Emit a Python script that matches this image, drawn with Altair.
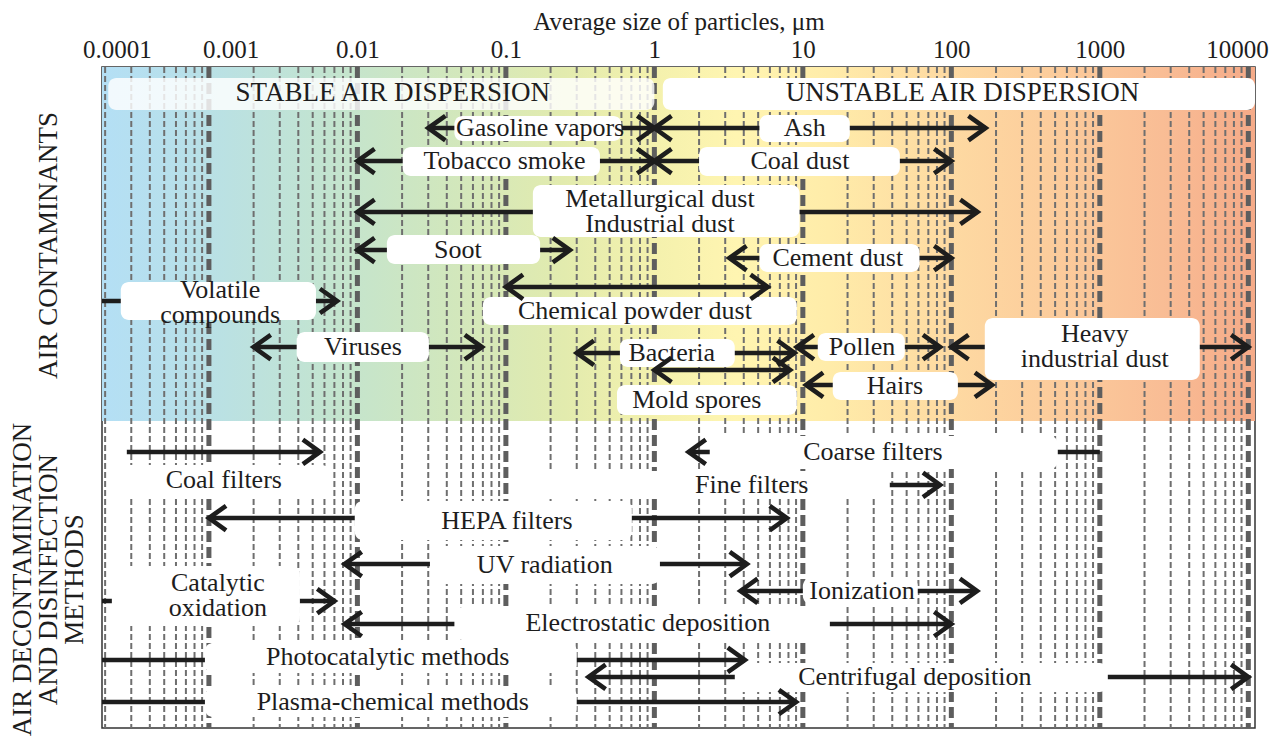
import json
import altair as alt
import pandas as pd

# ---------------- scale extents (log axis, micrometres) ----------------
X_MIN = 10 ** -3.72
X_MAX = 10 ** 4.045
Y_MAX = 30.0          # lanes, 0 = top of the plot
SPLIT = 16.07         # boundary between the two sections

# ---------------- axis texts (placed where the reference prints them) ----------------
TICK_AT = [0.00024, 0.0014, 0.01, 0.1, 1, 10, 100, 1000, 8400]
TICK_TEXT = ["0.0001", "0.001", "0.01", "0.1", "1", "10", "100", "1000", "10000"]
X_TITLE = "Average size of particles, μm"

SECTION_AT = [8.08, 23.24]
SECTION_TEXT = [["", "AIR CONTAMINANTS"],
                ["AIR DECONTAMINATION", "AND DISINFECTION", "METHODS"]]

# ---------------- header bands ----------------
HEADER_TEXT = ["STABLE AIR DISPERSION", "UNSTABLE AIR DISPERSION"]
HEADER_X = [0.0173, 119]
HEADER_ROW = [1.18, 1.18]
HEADER_LO = [0.00021, 1.14]
HEADER_HI = [1.0, X_MAX]
HEADER_TOP = [0.5, 0.5]
HEADER_BOT = [1.95, 1.95]

# ---------------- items ----------------
ITEM_TEXT = [
    "Gasoline vapors", "Ash", "Tobacco smoke", "Coal dust",
    "Metallurgical dust\nIndustrial dust", "Soot", "Cement dust",
    "Chemical powder dust", "Volatile\ncompounds", "Viruses", "Bacteria",
    "Pollen", "Heavy\nindustrial dust", "Mold spores", "Hairs",
    "Coal filters", "Coarse filters", "Fine filters", "HEPA filters",
    "UV radiation", "Catalytic\noxidation", "Ionization",
    "Electrostatic deposition", "Photocatalytic methods",
    "Centrifugal deposition", "Plasma-chemical methods",
]
ARROW_LO = [0.03, 1, 0.01, 1, 0.01, 0.01, 3.2, 0.1, X_MIN, 0.002, 0.3,
            9.1, 100, 1, 10.5,
            0.00028, 1.7, 4.5, 0.001, 0.0082, X_MIN, 3.8, 0.0082, X_MIN,
            0.36, X_MIN]
ARROW_HI = [1, 170, 1, 100, 150, 0.27, 100, 5.8, 0.0073, 0.069, 8.8,
            84, 10000, 8.2, 188,
            0.0056, 1000, 84, 7.8, 4.2, 0.007, 149, 100, 4.07,
            10000, 9]
ARROW_ROW = [2.77, 2.77, 4.27, 4.27, 6.58, 8.31, 8.67, 9.98, 10.62, 12.71,
             12.98, 12.71, 12.71, 13.75, 14.43,
             17.47, 17.47, 18.97, 20.47, 22.56, 24.24, 23.78, 25.28, 26.91,
             27.68, 28.82]
HEAD_LO = [1, 1, 1, 1, 1, 1, 1, 1, 0, 1, 1, 1, 1, 1, 1,
           0, 1, 0, 1, 1, 0, 1, 1, 0, 1, 0]
HEAD_HI = [1, 1, 1, 1, 1, 1, 1, 1, 1, 1, 1, 1, 1, 1, 1,
           1, 0, 1, 1, 1, 1, 1, 1, 1, 1, 1]
LABEL_X = [0.17, 10.3, 0.098, 9.55, 1.09, 0.0475, 17.2, 0.74, 0.00119,
           0.0109, 1.31, 25, 925, 1.93, 41.7,
           0.00126, 29.6, 4.53, 0.1016, 0.183, 0.00115, 25, 0.904, 0.016,
           56.8, 0.0173]
# row of the first text line
LABEL_ROW = [2.77, 2.77, 4.27, 4.27, 5.97, 8.31, 8.67, 11.07, 10.12, 12.71,
             12.98, 12.71, 12.13, 15.11, 14.48,
             18.74, 17.47, 18.97, 20.61, 22.6, 23.41, 23.78, 25.24, 26.78,
             27.68, 28.82]
BOX_LO = [0.045, 5.1, 0.0202, 2.0, 0.152, 0.0158, 5.1, 0.070, 0.000255,
          0.0039, 0.586, 12.6, 168, 0.56, 15.9,
          0.000215, 2.36, 0.17, 0.0096, 0.0308, 0.000222, 10, 0.045, 0.00094,
          3.48, 0.00094]
BOX_HI = [0.60, 20.7, 0.43, 45, 9.5, 0.17, 61, 9.1, 0.00526,
          0.0303, 3.48, 48.6, 4710, 9.1, 110.7,
          0.00653, 521, 38.5, 0.705, 1.09, 0.0041, 59.4, 15.2, 0.30,
          1132, 0.30]
BOX_TOP = [2.22, 2.18, 3.63, 3.63, 5.36, 7.62, 8.03, 10.44, 9.76, 12.03,
           12.35, 12.07, 11.39, 14.43, 13.84,
           18.06, 16.75, 18.34, 19.70, 21.74, 22.65, 23.19, 24.51, 26.14,
           27.05, 28.19]
BOX_BOT = [3.36, 3.40, 4.95, 4.95, 7.72, 8.94, 9.30, 11.71, 11.48, 13.39,
           13.62, 13.34, 14.21, 15.79, 15.11,
           19.52, 18.25, 19.61, 21.47, 23.46, 25.37, 24.37, 26.01, 27.50,
           28.37, 29.50]

# ---------------- styling ----------------
FONT = "Liberation Serif"
INK = "#1d1d1d"
PATH_R = "M -1.4 -1 L 0 0 L -1.4 1"
PATH_L = "M 1.4 -1 L 0 0 L 1.4 1"
GRAD = [(0.0, "#b4dff5"), (0.08, "#b8e0e8"), (0.2, "#c3e4cf"), (0.3, "#d1e7bd"),
        (0.4, "#e2ebae"), (0.48, "#f4f1ad"), (0.55, "#fff5b1"),
        (0.63, "#ffeca9"), (0.72, "#fedca3"), (0.82, "#fccd9c"),
        (0.92, "#f9bd95"), (1.0, "#f5aa88")]

# ---------------- tables ----------------
items = pd.DataFrame({
    "text": ITEM_TEXT, "lo": ARROW_LO, "hi": ARROW_HI, "row": ARROW_ROW,
    "lx": LABEL_X, "lrow": LABEL_ROW, "blo": BOX_LO, "bhi": BOX_HI,
    "btop": BOX_TOP, "bbot": BOX_BOT,
})
heads_rows = []
for a, b, r, hl, hh in zip(ARROW_LO, ARROW_HI, ARROW_ROW, HEAD_LO, HEAD_HI):
    if hl:
        heads_rows.append({"x": a, "row": r, "dir": "L"})
    if hh:
        heads_rows.append({"x": b, "row": r, "dir": "R"})
heads = pd.DataFrame(heads_rows)
headers = pd.DataFrame({
    "text": HEADER_TEXT, "x": HEADER_X, "row": HEADER_ROW,
    "lo": HEADER_LO, "hi": HEADER_HI, "top": HEADER_TOP, "bot": HEADER_BOT,
})
band = pd.DataFrame({"x0": [X_MIN], "x1": [X_MAX], "y0": [0.0], "y1": [SPLIT]})
minor = pd.DataFrame({"v": [m * 10.0 ** k for k in range(-4, 4) for m in range(2, 10)
                            if m * 10.0 ** k > X_MIN]})
major = pd.DataFrame({"v": [10.0 ** k for k in range(-3, 5)]})

# ---------------- axes ----------------
expr = "''"
for v, t in reversed(list(zip(TICK_AT, TICK_TEXT))):
    expr = f"datum.value <= {v * 1.001} ? '{t}' : ({expr})"
x_axis = alt.Axis(orient="top", values=TICK_AT, labelExpr=expr, title=X_TITLE,
                  grid=False, ticks=False, tickSize=0, domain=False,
                  labelFontSize=25, labelPadding=5, labelOverlap=False, labelLimit=0,
                  titleFontSize=25, titleFontWeight="normal", titlePadding=3)
y_expr = (f"datum.value < {SPLIT} ? {json.dumps(SECTION_TEXT[0])} : "
          f"{json.dumps(SECTION_TEXT[1])}")
y_axis = alt.Axis(orient="left", values=SECTION_AT, labelExpr=y_expr, title=None,
                  grid=False, ticks=False, tickSize=0, domain=False,
                  labelAngle=-90, labelAlign="center", labelBaseline="middle",
                  labelPadding=80, labelFontSize=27, labelLineHeight=26,
                  labelOverlap=False, labelLimit=0)

xs = alt.Scale(type="log", domain=[X_MIN, X_MAX], nice=False)
ys = alt.Scale(domain=[0, Y_MAX], reverse=True, nice=False, zero=False)


def X(f):
    return alt.X(f, type="quantitative", scale=xs, axis=x_axis)


def Y(f):
    return alt.Y(f, type="quantitative", scale=ys, axis=y_axis)


grad = alt.LinearGradient(
    gradient="linear", x1=0, x2=1, y1=0, y2=0,
    stops=[alt.GradientStop(offset=o, color=c) for o, c in GRAD])

band_layer = alt.Chart(band).mark_rect(fill=grad, strokeWidth=0).encode(
    x=X("x0"), x2="x1:Q", y=Y("y0"), y2="y1:Q")

minor_layer = alt.Chart(minor).mark_rule(
    color="#6f6f6f", strokeWidth=2, strokeDash=[6, 3]).encode(x=X("v"))
major_layer = alt.Chart(major).mark_rule(
    color="#5e5e5e", strokeWidth=5, strokeDash=[11, 5]).encode(x=X("v"))

header_box = alt.Chart(headers).mark_rect(cornerRadius=8, color="white").encode(
    x=X("lo"), x2="hi:Q", y=Y("top"), y2="bot:Q",
    opacity=alt.condition(alt.datum.text == HEADER_TEXT[0], alt.value(0.82), alt.value(1.0)))

lines = alt.Chart(items).mark_rule(color=INK, strokeWidth=4.5, clip=True).encode(
    x=X("lo"), x2="hi:Q", y=Y("row"))

boxes = alt.Chart(items).mark_rect(cornerRadius=8, color="white").encode(
    x=X("blo"), x2="bhi:Q", y=Y("btop"), y2="bbot:Q")

header_text = alt.Chart(headers).mark_text(
    font=FONT, fontSize=27, color=INK, baseline="middle").encode(
    x=X("x"), y=Y("row"), text="text:N")

label_text = alt.Chart(items).mark_text(
    font=FONT, fontSize=26, color=INK, baseline="middle", lineBreak="\n",
    lineHeight=25).encode(x=X("lx"), y=Y("lrow"), text="text:N")

head_layer = alt.Chart(heads).mark_point(
    filled=False, size=600, strokeWidth=4.6, color=INK, opacity=1,
    strokeJoin="miter", strokeCap="butt").encode(
    x=X("x"), y=Y("row"),
    shape=alt.Shape("dir:N", scale=alt.Scale(domain=["L", "R"], range=[PATH_L, PATH_R]),
                    legend=None))

chart = alt.layer(
    band_layer, minor_layer, major_layer, header_box, lines, boxes,
    header_text, label_text, head_layer,
).properties(
    width=1153, height=661,
    padding={"left": 94, "top": 59, "right": 21, "bottom": 12},
    autosize=alt.AutoSizeParams(type="none"),
).configure_view(
    stroke="#333333", strokeWidth=1.5
).configure_axis(
    labelFont=FONT, titleFont=FONT, labelColor=INK, titleColor=INK
)

chart.save("out.html", embed_options={"renderer": "svg", "actions": False})
